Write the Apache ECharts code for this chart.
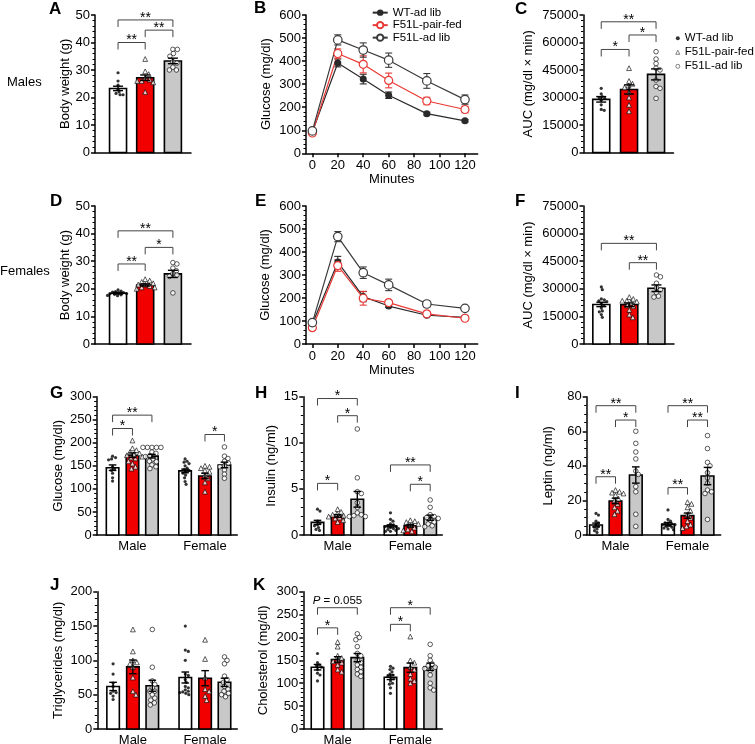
<!DOCTYPE html>
<html><head><meta charset="utf-8">
<script src="https://cdn.jsdelivr.net/npm/echarts@6/dist/echarts.min.js"></script>
<style>html,body{margin:0;padding:0;background:#fff;}#root{position:relative;width:755px;height:744px;overflow:hidden;}</style>
</head><body><div id="root"></div>
<script>
// ---------------- DATA ----------------
const groups = ['WT-ad lib', 'F51L-pair-fed', 'F51L-ad lib'];
const sexLabels = ['Male', 'Female'];
const minutes = [0, 20, 40, 60, 90, 120];
const minuteTicks = [0, 20, 40, 60, 80, 100, 120];

// A: body weight, males
const bwMaleMean = [23.3, 27.2, 33.3];
const bwMaleSem = [0.8, 1.0, 1.0];
const bwMalePts = [
  [29, 26, 24.5, 23, 22, 21.5, 21, 21],
  [34, 29.5, 28.5, 27, 26.5, 26, 26, 25.5, 22],
  [37.5, 37.5, 36, 35, 33, 32.5, 31, 30, 30]
];
// B: GTT males
const gttMaleWT = [93, 392, 322, 252, 172, 141];
const gttMalePair = [88, 433, 386, 316, 227, 190];
const gttMaleAdlib = [97, 492, 448, 404, 314, 233];
const gttMaleWTSem = [5, 17, 21, 14, 6, 5];
const gttMalePairSem = [5, 20, 37, 32, 16, 14];
const gttMaleAdlibSem = [5, 22, 31, 31, 32, 20];
// C: AUC males
const aucMaleMean = [29000, 34400, 42600];
const aucMaleSem = [1500, 2500, 3000];
const aucMalePts = [
  [35000, 32000, 30500, 30000, 29500, 28500, 26000, 23500, 23000],
  [46000, 39000, 37500, 36500, 35500, 33000, 30000, 26000, 22500],
  [55000, 51000, 48500, 46000, 45000, 39500, 36000, 35000, 29500]
];
// D: body weight, females
const bwFemaleMean = [18.4, 21.4, 25.4];
const bwFemaleSem = [0.3, 0.4, 1.3];
const bwFemalePts = [
  [19.6, 19.2, 19.0, 18.8, 18.6, 18.5, 18.3, 18.2, 18.0, 17.8, 17.6, 17.5],
  [23.5, 23, 22.5, 22, 21.5, 21.5, 21, 20.5, 20.5, 20],
  [29.5, 29, 27.5, 26.5, 25.5, 25, 24.5, 18.5]
];
// E: GTT females
const gttFemaleWT = [87, 356, 206, 165, 125, 116];
const gttFemalePair = [71, 341, 199, 180, 131, 112];
const gttFemaleAdlib = [93, 467, 310, 257, 174, 155];
const gttFemaleWTSem = [5, 25, 22, 6, 6, 5];
const gttFemalePairSem = [5, 25, 30, 8, 8, 5];
const gttFemaleAdlibSem = [5, 22, 25, 25, 12, 5];
// F: AUC females
const aucFemaleMean = [21500, 21300, 30300];
const aucFemaleSem = [1200, 1000, 1800];
const aucFemalePts = [
  [31000, 29500, 24500, 24000, 23500, 23000, 22000, 21000, 19500, 18000, 17500, 16000, 14500],
  [25500, 24500, 23500, 23500, 23000, 22500, 21000, 20500, 18500, 16000, 14500],
  [37500, 36500, 33000, 30500, 29500, 28000, 26000, 25500]
];
// G-K: Male (WT, pair, adlib), Female (WT, pair, adlib)
const glucoseMean = [146, 173, 171, 139, 128, 152];
const glucoseSem = [6, 5, 4, 4, 6, 6];
const glucosePts = [
  [171, 168, 165, 163, 148, 143, 140, 134, 124, 117],
  [205, 188, 184, 180, 177, 175, 173, 170, 168, 166, 160, 155, 148, 144],
  [190, 190, 190, 190, 190, 180, 177, 172, 170, 165, 160, 159, 152, 148, 144],
  [165, 160, 158, 155, 150, 145, 142, 140, 137, 134, 130, 124, 116, 110],
  [150, 148, 145, 140, 137, 130, 123, 114, 94],
  [191, 171, 166, 160, 156, 150, 148, 141, 132, 123]
];
const insulinMean = [1.37, 2.06, 3.87, 0.98, 1.0, 1.88];
const insulinSem = [0.22, 0.15, 0.85, 0.12, 0.15, 0.28];
const insulinPts = [
  [2.8, 2.6, 1.5, 1.3, 1.1, 1.0, 0.8, 0.6, 0.5],
  [2.8, 2.5, 2.3, 2.2, 2.1, 2.0, 1.9, 1.8, 1.6, 1.4],
  [11.5, 6.2, 4.7, 4.5, 3.5, 3.0, 2.4, 2.2, 2.1, 2.0, 2.0],
  [2.4, 1.7, 1.5, 1.2, 1.1, 1.0, 0.9, 0.9, 0.8, 0.7, 0.7, 0.6, 0.5, 0.4, 0.4],
  [1.6, 1.5, 1.4, 1.2, 1.0, 0.8, 0.6, 0.5, 0.4],
  [3.8, 3.0, 2.2, 2.0, 1.9, 1.8, 1.6, 1.4, 1.2, 1.0, 0.9]
];
const leptinMean = [5.8, 19.7, 34.7, 6.2, 11.2, 34.1];
const leptinSem = [1.1, 1.6, 4.7, 0.9, 1.5, 5.0];
const leptinPts = [
  [12.5, 11.5, 8, 7, 6, 5, 4.5, 3.5, 2.5, 1.5],
  [26, 25, 24.5, 24, 23, 21, 20, 18, 16, 14, 12],
  [60, 53, 48, 44, 37, 35, 28, 25, 12, 5],
  [14.5, 9, 8, 7, 7, 6.5, 6, 6, 5.5, 5, 4.5, 4, 3.5, 3],
  [19, 18, 16, 14, 12, 10, 8, 6, 5, 4],
  [57.5, 50, 42, 40, 36, 33, 30, 26, 25, 24, 9]
];
const tgMean = [62, 90.5, 63, 75, 74, 68];
const tgSem = [6, 10, 8, 8, 11, 6];
const tgPts = [
  [95, 80, 67, 62, 55, 53, 52, 48, 43],
  [145, 113, 100, 97, 95, 90, 75, 55, 50],
  [145, 90, 70, 65, 60, 55, 55, 50, 45, 42, 38, 35],
  [150, 115, 113, 100, 80, 78, 72, 68, 62, 60, 57, 55, 54, 53, 52, 50],
  [130, 102, 75, 58, 55, 48, 42],
  [105, 100, 95, 77, 72, 68, 62, 58, 55, 52, 50, 47]
];
const cholMean = [135, 152, 156, 113, 134, 136];
const cholSem = [6, 6, 9, 5, 10, 8];
const cholPts = [
  [165, 145, 140, 138, 135, 130, 122, 118, 105],
  [190, 180, 160, 155, 150, 148, 145, 140, 130, 125],
  [208, 200, 195, 180, 165, 160, 150, 145, 140, 135, 130, 125, 120, 115],
  [137, 133, 130, 125, 120, 118, 115, 112, 110, 105, 100, 98, 90, 78],
  [202, 150, 145, 135, 130, 120, 110, 105, 100],
  [185, 160, 150, 142, 138, 135, 132, 128, 118, 100, 90, 85]
];
// significance brackets: [barIndexA, barIndexB, y, label]
const sigA = [[0, 1, 40, '**'], [1, 2, 44.5, '**'], [0, 2, 48.2, '**']];
const sigC = [[0, 1, 56200, '*'], [1, 2, 64100, '*'], [0, 2, 71300, '**']];
const sigD = [[0, 1, 29, '**'], [1, 2, 35, '*'], [0, 2, 41, '**']];
const sigF = [[1, 2, 44200, '**'], [0, 2, 54700, '**']];
const sigG = [[0, 1, 231, '*'], [0, 2, 260, '**'], [4, 5, 218, '*']];
const sigH = [[0, 1, 5.6, '*'], [1, 2, 12.94, '*'], [0, 2, 14.8, '*'], [3, 5, 7.6, '**'], [4, 5, 5.5, '*']];
const sigI = [[0, 1, 33.7, '**'], [1, 2, 66.5, '*'], [0, 2, 74.8, '**'], [3, 4, 27.4, '**'], [4, 5, 66.5, '**'], [3, 5, 74.8, '**']];
const sigK = [[0, 1, 221, '*'], [0, 2, 265, 'P = 0.055'], [3, 4, 228.7, '*'], [3, 5, 265, '*']];

// ---------------- STYLE ----------------
const FONT = '"Liberation Sans", Arial, Helvetica, sans-serif';
const BAR_FILL = ['#ffffff', '#f20000', '#c8c8c8'];
const PT_SYMBOL = ['circle', 'triangle', 'circle'];
const PT_SIZE = [3.2, 4.8, 4.6];
const LINE_COLOR = ['#2a2a2a', '#e83a36', '#3a3a3a'];
const AX = { color: '#000', width: 1.5 };
const root = document.getElementById('root');

function mount(option) {
  const d = document.createElement('div');
  d.style.cssText = 'position:absolute;left:0;top:0;width:755px;height:744px;';
  root.appendChild(d);
  const ch = echarts.init(d, null, { renderer: 'canvas', width: 755, height: 744 });
  ch.setOption(option);
}

function swarmX(vals, cx, pxX, pxY, dmin) {
  const placed = [], out = new Array(vals.length);
  const order = vals.map((v, i) => i).sort((a, b) => vals[b] - vals[a]);
  order.forEach(i => {
    const y = vals[i] * pxY;
    let best = 0;
    for (let s = 0; s < 80; s++) {
      const cand = (s % 2 === 1 ? 1 : -1) * Math.ceil(s / 2) * 0.5;
      if (placed.every(p => Math.hypot(p.x - cand, p.y - y) >= dmin)) { best = cand; break; }
    }
    placed.push({ x: best, y });
    out[i] = cx + best / pxX;
  });
  return out;
}

function errRender(capHalf, color, width) {
  return function (params, api) {
    const x = api.value(0), m = api.value(1), s = api.value(2);
    const t = api.coord([x, m + s]), b = api.coord([x, m - s]);
    const st = { stroke: color, lineWidth: width };
    return { type: 'group', children: [
      { type: 'line', shape: { x1: t[0], y1: t[1], x2: b[0], y2: b[1] }, style: st },
      { type: 'line', shape: { x1: t[0] - capHalf, y1: t[1], x2: t[0] + capHalf, y2: t[1] }, style: st },
      { type: 'line', shape: { x1: b[0] - capHalf, y1: b[1], x2: b[0] + capHalf, y2: b[1] }, style: st }
    ] };
  };
}

function barRender(width, fills) {
  return function (params, api) {
    const x = api.value(0), m = api.value(1);
    const t = api.coord([x, m]), b = api.coord([x, 0]);
    return { type: 'rect', shape: { x: t[0] - width / 2, y: t[1], width: width, height: b[1] - t[1] },
      style: { fill: fills[params.dataIndex], stroke: '#000', lineWidth: 1.6 } };
  };
}

function bracketRender(labels) {
  return function (params, api) {
    const a = api.coord([api.value(0), api.value(2)]);
    const b = api.coord([api.value(1), api.value(2)]);
    const leg = 7;
    const lab = labels[params.dataIndex];
    const star = /^\*+$/.test(lab);
    const cx = (a[0] + b[0]) / 2;
    const txt = star
      ? { type: 'text', x: cx, y: a[1] - 2, style: { text: lab, fill: '#000', font: '14px ' + FONT, align: 'center', verticalAlign: 'middle' } }
      : { type: 'text', x: cx, y: a[1] - 7, style: { text: lab.replace(/^P/, '{i|P}'), fill: '#000', font: '11.5px ' + FONT, align: 'center', verticalAlign: 'middle',
          rich: { i: { fontStyle: 'italic', fontSize: 11.5, fontFamily: FONT, fill: '#000' } } } };
    return { type: 'group', children: [
      { type: 'polyline', shape: { points: [[a[0], a[1] + leg], [a[0], a[1]], [b[0], b[1]], [b[0], b[1] + leg]] }, style: { stroke: '#444', lineWidth: 1, fill: null } },
      txt
    ] };
  };
}

function yAxisCfg(p) {
  return {
    type: 'value', min: 0, max: p.yMax, interval: p.yInt,
    name: p.yName, nameLocation: 'middle', nameGap: p.nameGap,
    nameTextStyle: { fontFamily: FONT, fontSize: 13, color: '#000' },
    axisLine: { show: true, onZero: false, lineStyle: AX },
    axisTick: { show: true, inside: false, length: 4, lineStyle: AX },
    minorTick: { show: true, splitNumber: p.minor, length: 2.5, lineStyle: { color: '#000', width: 1 } },
    splitLine: { show: false }, minorSplitLine: { show: false },
    axisLabel: { fontFamily: FONT, fontSize: 13, color: '#000', margin: 5, formatter: v => String(v) }
  };
}

function barPanel(p) {
  const g = p.grid;
  const pxX = g.width / p.xMax, pxY = g.height / p.yMax;
  const series = [];
  series.push({ type: 'custom', silent: true, encode: { x: 0, y: 1 },
    data: p.means.map((m, i) => [p.xPos[i], m]),
    renderItem: barRender(p.barWidth, p.groupOf.map(k => BAR_FILL[k])), z: 1 });
  [0, 1, 2].forEach(k => {
    const data = [];
    p.points.forEach((vals, i) => {
      if (p.groupOf[i] !== k) return;
      const xs = swarmX(vals, p.xPos[i], pxX, pxY, PT_SIZE[k] * 0.9);
      vals.forEach((v, j) => data.push([xs[j], v]));
    });
    series.push({ type: 'scatter', name: groups[k], data, symbol: PT_SYMBOL[k], symbolSize: PT_SIZE[k], silent: true,
      itemStyle: k === 0 ? { color: '#000' } : { color: '#fff', borderColor: '#000', borderWidth: 0.8 }, z: 3 });
  });
  series.push({ type: 'custom', silent: true, encode: { x: 0, y: 1 },
    data: p.means.map((m, i) => [p.xPos[i], m, p.sems[i]]),
    renderItem: errRender(p.capHalf, '#000', 1.4), z: 4 });
  if (p.sig) series.push({ type: 'custom', silent: true, encode: { x: [0, 1], y: 2 },
    data: p.sig.map(b => [p.xPos[b[0]], p.xPos[b[1]], b[2]]),
    renderItem: bracketRender(p.sig.map(b => b[3])), z: 4 });
  const xAxis = { type: 'value', min: 0, max: p.xMax,
    axisLine: { show: true, onZero: false, lineStyle: AX }, axisTick: { show: false },
    splitLine: { show: false },
    axisLabel: p.cats ? { customValues: [p.xPos[1], p.xPos[4]], formatter: v => (v < p.xMax / 2 ? sexLabels[0] : sexLabels[1]),
      fontFamily: FONT, fontSize: 13, color: '#000', margin: 5 } : { show: false } };
  const opt = { animation: false, grid: Object.assign({ containLabel: false, outerBoundsMode: 'none' }, g),
    xAxis, yAxis: yAxisCfg(p), series };
  if (p.legend) opt.legend = p.legend;
  if (p.graphic) opt.graphic = p.graphic;
  return opt;
}

function linePanel(p) {
  const series = [];
  p.means.forEach((m, k) => {
    series.push({ type: 'custom', silent: true, encode: { x: 0, y: 1 },
      data: minutes.map((t, j) => [t, m[j], p.sems[k][j]]), renderItem: errRender(3.5, LINE_COLOR[k], 1.1), z: 2 });
  });
  p.means.forEach((m, k) => {
    series.push({ type: 'line', name: groups[k], data: minutes.map((t, j) => [t, m[j]]),
      symbol: 'circle', symbolSize: [7, 8, 8.5][k], showAllSymbol: true, silent: true,
      lineStyle: { color: LINE_COLOR[k], width: 1.2 },
      itemStyle: k === 0 ? { color: LINE_COLOR[0] } : { color: '#fff', borderColor: LINE_COLOR[k], borderWidth: 1.2 }, z: 3 });
  });
  const opt = {
    animation: false,
    grid: Object.assign({ containLabel: false, outerBoundsMode: 'none' }, p.grid),
    xAxis: { type: 'value', min: -5, max: 130, name: 'Minutes', nameLocation: 'middle', nameGap: 20,
      nameTextStyle: { fontFamily: FONT, fontSize: 13, color: '#000' },
      axisLine: { show: true, onZero: false, lineStyle: AX },
      axisTick: { show: true, length: 4, customValues: minuteTicks, lineStyle: AX },
      axisLabel: { customValues: minuteTicks, fontFamily: FONT, fontSize: 13, color: '#000', margin: 6, formatter: v => String(v) },
      splitLine: { show: false } },
    yAxis: yAxisCfg(p),
    series
  };
  if (p.legend) opt.legend = p.legend;
  return opt;
}

// ---------------- PANELS ----------------
const letters = [['A', 49, 1], ['B', 254, 0], ['C', 515, 1], ['D', 50, 193], ['E', 255, 193], ['F', 515, 193],
  ['G', 50, 385], ['H', 255, 385], ['I', 515, 385], ['J', 50, 577], ['K', 253, 577]];
const labelGraphic = letters.map(l => ({ type: 'text', left: l[1], top: l[2], silent: true,
  style: { text: l[0], font: 'bold 17px ' + FONT, fill: '#000' } }))
  .concat([
    { type: 'text', left: 7, top: 76, silent: true, style: { text: 'Males', font: '13px ' + FONT, fill: '#000' } },
    { type: 'text', left: 0, top: 265, silent: true, style: { text: 'Females', font: '13px ' + FONT, fill: '#000' } }
  ]);

const topBar = { xMax: 3.5, xPos: [0.84, 1.83, 2.84], barWidth: 17, capHalf: 5, groupOf: [0, 1, 2] };
const aucBar = { xMax: 3.3, xPos: [0.65, 1.67, 2.66], barWidth: 17, capHalf: 5, groupOf: [0, 1, 2] };
const botG = { xMax: 7, xPos: [0.79, 1.78, 2.75, 4.40, 5.39, 6.36], barWidth: 12.5, capHalf: 3.8, groupOf: [0, 1, 2, 0, 1, 2], cats: true };
const botH = { xMax: 7, xPos: [0.715, 1.73, 2.72, 4.39, 5.39, 6.39], barWidth: 12.5, capHalf: 3.8, groupOf: [0, 1, 2, 0, 1, 2], cats: true };
const botI = { xMax: 6.7, xPos: [0.465, 1.44, 2.455, 4.065, 5.04, 6.04], barWidth: 12.7, capHalf: 3.8, groupOf: [0, 1, 2, 0, 1, 2], cats: true };

mount(barPanel(Object.assign({}, topBar, { grid: { left: 95, top: 15, width: 96, height: 137.5 },
  yMax: 50, yInt: 10, minor: 5, yName: 'Body weight (g)', nameGap: 23,
  means: bwMaleMean, sems: bwMaleSem, points: bwMalePts, sig: sigA, graphic: labelGraphic })));

mount(linePanel({ grid: { left: 306, top: 15, width: 171.7, height: 138.3 },
  yMax: 600, yInt: 100, minor: 5, yName: 'Glucose (mg/dl)', nameGap: 33.5,
  means: [gttMaleWT, gttMalePair, gttMaleAdlib], sems: [gttMaleWTSem, gttMalePairSem, gttMaleAdlibSem],
  legend: { data: groups, orient: 'vertical', left: 371.7, top: 6.4, padding: 0, itemWidth: 15, itemHeight: 8, itemGap: 0,
    textStyle: { fontFamily: FONT, fontSize: 11.5, color: '#000', lineHeight: 12.5 }, selectedMode: false } }));

mount(barPanel(Object.assign({}, aucBar, { grid: { left: 583.5, top: 15, width: 90, height: 137.5 },
  yMax: 75000, yInt: 15000, minor: 5, yName: 'AUC (mg/dl × min)', nameGap: 49,
  means: aucMaleMean, sems: aucMaleSem, points: aucMalePts, sig: sigC,
  legend: { data: groups, orient: 'vertical', left: 675.5, top: 32.3, padding: 0, itemWidth: 4, itemHeight: 4, itemGap: 2,
    itemStyle: { borderWidth: 0.6 },
    textStyle: { fontFamily: FONT, fontSize: 11.5, color: '#000', lineHeight: 12 }, selectedMode: false } })));

mount(barPanel(Object.assign({}, topBar, { grid: { left: 95, top: 206, width: 96, height: 138 },
  yMax: 50, yInt: 10, minor: 5, yName: 'Body weight (g)', nameGap: 23,
  means: bwFemaleMean, sems: bwFemaleSem, points: bwFemalePts, sig: sigD })));

mount(linePanel({ grid: { left: 306, top: 206, width: 171.7, height: 138 },
  yMax: 600, yInt: 100, minor: 5, yName: 'Glucose (mg/dl)', nameGap: 34.5,
  means: [gttFemaleWT, gttFemalePair, gttFemaleAdlib], sems: [gttFemaleWTSem, gttFemalePairSem, gttFemaleAdlibSem] }));

mount(barPanel(Object.assign({}, aucBar, { grid: { left: 583.5, top: 206, width: 90.5, height: 138 },
  yMax: 75000, yInt: 15000, minor: 5, yName: 'AUC (mg/dl × min)', nameGap: 49,
  means: aucFemaleMean, sems: aucFemaleSem, points: aucFemalePts, sig: sigF })));

mount(barPanel(Object.assign({}, botG, { grid: { left: 96.7, top: 396.7, width: 140.6, height: 138.3 },
  yMax: 300, yInt: 50, minor: 5, yName: 'Glucose (mg/dl)', nameGap: 32,
  means: glucoseMean, sems: glucoseSem, points: glucosePts, sig: sigG })));

mount(barPanel(Object.assign({}, botH, { grid: { left: 303.3, top: 396.7, width: 139, height: 138.3 },
  yMax: 15, yInt: 5, minor: 5, yName: 'Insulin (ng/ml)', nameGap: 25,
  means: insulinMean, sems: insulinSem, points: insulinPts, sig: sigH })));

mount(barPanel(Object.assign({}, botI, { grid: { left: 586.7, top: 396.7, width: 134, height: 138.3 },
  yMax: 80, yInt: 20, minor: 4, yName: 'Leptin (ng/ml)', nameGap: 32,
  means: leptinMean, sems: leptinSem, points: leptinPts, sig: sigI })));

mount(barPanel(Object.assign({}, botG, { grid: { left: 97.3, top: 591.7, width: 140, height: 137.3 },
  yMax: 200, yInt: 50, minor: 5, yName: 'Triglycerides (mg/dl)', nameGap: 32.5,
  means: tgMean, sems: tgSem, points: tgPts })));

mount(barPanel(Object.assign({}, botH, { grid: { left: 303.3, top: 591.7, width: 139, height: 137.3 },
  yMax: 300, yInt: 50, minor: 5, yName: 'Cholesterol (mg/dl)', nameGap: 33.5,
  means: cholMean, sems: cholSem, points: cholPts, sig: sigK })));
</script></body></html>
